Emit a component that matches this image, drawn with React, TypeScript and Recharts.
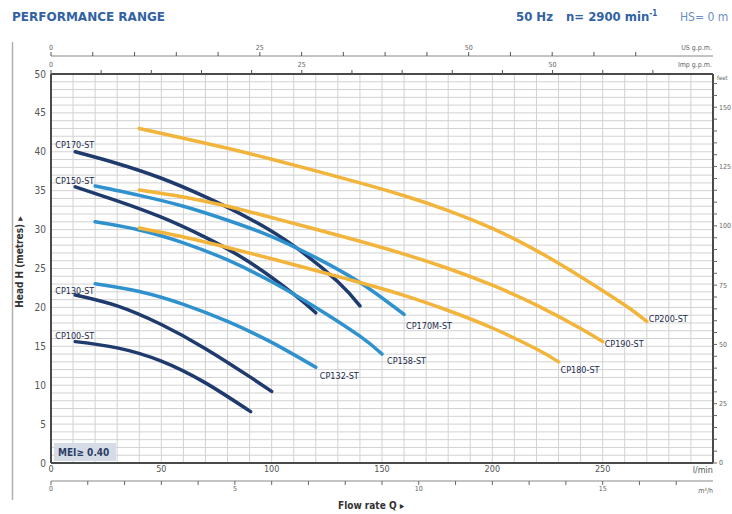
import React from 'react';
import { LineChart, Line, XAxis, YAxis, CartesianGrid } from 'recharts';

const FONT = '"Liberation Sans Narrow", "DejaVu Sans Condensed", "Liberation Sans", Arial, sans-serif';
const NAVY = '#1f3a6c';
const LIGHT = '#2f92cf';
const ORANGE = '#f2b43a';

// tick arrays
const flowTicks = [0, 10, 20, 30, 40, 50, 60, 70, 80, 90, 100, 110, 120, 130, 140, 150, 160, 170, 180, 190, 200, 210, 220, 230, 240, 250, 260, 270, 280, 290, 300];
const headTicks = [0, 1, 2, 3, 4, 5, 6, 7, 8, 9, 10, 11, 12, 13, 14, 15, 16, 17, 18, 19, 20, 21, 22, 23, 24, 25, 26, 27, 28, 29, 30, 31, 32, 33, 34, 35, 36, 37, 38, 39, 40, 41, 42, 43, 44, 45, 46, 47, 48, 49, 50];
const feetTicks = [0, 5, 10, 15, 20, 25, 30, 35, 40, 45, 50, 55, 60, 65, 70, 75, 80, 85, 90, 95, 100, 105, 110, 115, 120, 125, 130, 135, 140, 145, 150, 155, 160];
const usTicks = [0, 5, 10, 15, 20, 25, 30, 35, 40, 45, 50, 55, 60, 65, 70];
const impTicks = [0, 5, 10, 15, 20, 25, 30, 35, 40, 45, 50, 55, 60];
const m3Ticks = [0, 1, 2, 3, 4, 5, 6, 7, 8, 9, 10, 11, 12, 13, 14, 15, 16, 17];
const flowLabels = [0, 50, 100, 150, 200, 250];
const headLabels = [0, 5, 10, 15, 20, 25, 30, 35, 40, 45, 50];
const feetLabels = [0, 25, 50, 75, 100, 125, 150];
const usLabels = [0, 25, 50];
const impLabels = [0, 25, 50];
const m3Labels = [0, 5, 10, 15];

// curve data (flow l/min, head m)
const cp100 = [{ q: 11, h: 15.6 }, { q: 30, h: 14.8 }, { q: 50, h: 13.1 }, { q: 70, h: 10.3 }, { q: 90.5, h: 6.6 }];
const cp130 = [{ q: 11, h: 21.6 }, { q: 30, h: 20.2 }, { q: 50, h: 17.8 }, { q: 70, h: 14.7 }, { q: 90, h: 11.1 }, { q: 100, h: 9.2 }];
const cp132 = [{ q: 20, h: 23.05 }, { q: 40, h: 22.05 }, { q: 60, h: 20.4 }, { q: 80, h: 18.2 }, { q: 100, h: 15.5 }, { q: 120, h: 12.3 }];
const cp150 = [{ q: 11, h: 35.5 }, { q: 30, h: 33.7 }, { q: 50, h: 31.6 }, { q: 70, h: 29.0 }, { q: 90, h: 25.8 }, { q: 110, h: 21.7 }, { q: 120, h: 19.3 }];
const cp158 = [{ q: 20, h: 31.0 }, { q: 40, h: 29.95 }, { q: 60, h: 28.3 }, { q: 80, h: 26.1 }, { q: 100, h: 23.3 }, { q: 120, h: 20.0 }, { q: 140, h: 16.3 }, { q: 150, h: 14.0 }];
const cp170 = [{ q: 11, h: 40.0 }, { q: 30, h: 38.5 }, { q: 50, h: 36.6 }, { q: 70, h: 34.2 }, { q: 90, h: 31.4 }, { q: 110, h: 27.9 }, { q: 130, h: 23.3 }, { q: 140, h: 20.2 }];
const cp170m = [{ q: 20, h: 35.6 }, { q: 40, h: 34.4 }, { q: 60, h: 33.0 }, { q: 80, h: 31.2 }, { q: 100, h: 29.1 }, { q: 120, h: 26.4 }, { q: 140, h: 23.2 }, { q: 160, h: 19.1 }];
const cp180 = [{ q: 40, h: 30.2 }, { q: 60, h: 29.05 }, { q: 80, h: 27.7 }, { q: 100, h: 26.25 }, { q: 120, h: 24.75 }, { q: 140, h: 23.2 }, { q: 160, h: 21.55 }, { q: 180, h: 19.6 }, { q: 200, h: 17.35 }, { q: 220, h: 14.65 }, { q: 230, h: 13.0 }];
const cp190 = [{ q: 40, h: 35.1 }, { q: 60, h: 34.2 }, { q: 80, h: 33.0 }, { q: 100, h: 31.55 }, { q: 120, h: 30.05 }, { q: 140, h: 28.5 }, { q: 160, h: 26.85 }, { q: 180, h: 25.0 }, { q: 200, h: 22.85 }, { q: 220, h: 20.3 }, { q: 240, h: 17.3 }, { q: 250, h: 15.6 }];
const cp200 = [{ q: 40, h: 43.0 }, { q: 60, h: 41.75 }, { q: 80, h: 40.45 }, { q: 100, h: 39.05 }, { q: 120, h: 37.55 }, { q: 140, h: 36.0 }, { q: 160, h: 34.35 }, { q: 180, h: 32.45 }, { q: 200, h: 30.15 }, { q: 220, h: 27.3 }, { q: 240, h: 23.95 }, { q: 260, h: 20.3 }, { q: 270, h: 18.2 }];

const seriesNames = ['CP100-ST', 'CP130-ST', 'CP132-ST', 'CP150-ST', 'CP158-ST', 'CP170-ST', 'CP170M-ST', 'CP180-ST', 'CP190-ST', 'CP200-ST'];
const seriesData = [cp100, cp130, cp132, cp150, cp158, cp170, cp170m, cp180, cp190, cp200];

// styling / label placement (kept apart from the data)
const seriesStyle = [
  { color: NAVY, at: 'start', dx: -20, dy: -5 },
  { color: NAVY, at: 'start', dx: -20, dy: -3 },
  { color: LIGHT, at: 'end', dx: 4, dy: 9 },
  { color: NAVY, at: 'start', dx: -20, dy: -5 },
  { color: LIGHT, at: 'end', dx: 5, dy: 7 },
  { color: NAVY, at: 'start', dx: -20, dy: -6 },
  { color: LIGHT, at: 'end', dx: 2, dy: 12 },
  { color: ORANGE, at: 'end', dx: 2, dy: 9 },
  { color: ORANGE, at: 'end', dx: 2, dy: 3 },
  { color: ORANGE, at: 'end', dx: 2, dy: -2 },
];

// rows that give the unit axes a data domain (built from the tick array)
const axisRows = flowTicks.map((q) => ({ q }));

const onlyLabels = (list: number[]) => (v: number) => (list.indexOf(v) >= 0 ? String(v) : '');

const makeLabel = (name: string, len: number, st: any) => (props: any) => {
  const { x, y, index } = props;
  const target = st.at === 'start' ? 0 : len - 1;
  if (index !== target || x == null || y == null) return <g />;
  return (
    <text x={x + st.dx} y={y + st.dy} fontSize={9} fontFamily={FONT} fill="#1b2a4c" dominantBaseline="middle">
      {name}
    </text>
  );
};

const smallTick = { fontSize: 7, fill: '#666', fontFamily: FONT };

export default function App() {
  return (
    <div style={{ position: 'absolute', left: 0, top: 0, width: 732, height: 514, background: '#fff' }}>
      <LineChart width={732} height={514} data={axisRows} margin={{ top: 42, right: 0, bottom: 17, left: 21 }}>
        <CartesianGrid xAxisId="lpm" yAxisId="m" stroke="#d2d2d2" strokeWidth={1} />
        <XAxis
          xAxisId="lpm"
          type="number"
          dataKey="q"
          domain={[0, 300]}
          ticks={flowTicks}
          interval={0}
          tickFormatter={onlyLabels(flowLabels)}
          tickLine={false}
          tickSize={1}
          tickMargin={2}
          height={18}
          axisLine={{ stroke: '#4a4a4a', strokeWidth: 2 }}
          tick={{ fontSize: 9, fill: '#555', fontFamily: FONT }}
          allowDataOverflow
        />
        <XAxis
          xAxisId="m3"
          type="number"
          dataKey="q"
          orientation="bottom"
          domain={[0, 18]}
          ticks={m3Ticks}
          interval={0}
          tickFormatter={onlyLabels(m3Labels)}
          tickSize={4}
          tickMargin={1}
          height={16}
          axisLine={{ stroke: '#888' }}
          tickLine={{ stroke: '#666' }}
          tick={smallTick}
          allowDataOverflow
        />
        <XAxis
          xAxisId="imp"
          type="number"
          dataKey="q"
          orientation="top"
          domain={[0, 300 / 4.54609]}
          ticks={impTicks}
          interval={0}
          tickFormatter={onlyLabels(impLabels)}
          tickSize={4}
          tickMargin={3}
          height={18}
          axisLine={{ stroke: '#4a4a4a', strokeWidth: 2 }}
          tickLine={{ stroke: '#555' }}
          tick={smallTick}
          allowDataOverflow
        />
        <XAxis
          xAxisId="us"
          type="number"
          dataKey="q"
          orientation="top"
          domain={[0, 300 / 3.78541]}
          ticks={usTicks}
          interval={0}
          tickFormatter={onlyLabels(usLabels)}
          tickSize={4}
          tickMargin={2}
          height={14}
          axisLine={{ stroke: '#888' }}
          tickLine={{ stroke: '#555' }}
          tick={smallTick}
          allowDataOverflow
        />
        <YAxis
          yAxisId="m"
          type="number"
          domain={[0, 50]}
          ticks={headTicks}
          interval={0}
          tickFormatter={onlyLabels(headLabels)}
          tickLine={false}
          tickSize={3}
          tickMargin={2}
          width={30}
          axisLine={{ stroke: '#4a4a4a', strokeWidth: 2 }}
          tick={{ fontSize: 10, fill: '#555', fontFamily: FONT }}
          allowDataOverflow
        />
        <YAxis
          yAxisId="ft"
          type="number"
          orientation="right"
          domain={[0, 50 / 0.3048]}
          ticks={feetTicks}
          interval={0}
          tickFormatter={onlyLabels(feetLabels)}
          tickSize={4}
          tickMargin={2}
          width={19}
          axisLine={{ stroke: '#4a4a4a', strokeWidth: 2 }}
          tickLine={{ stroke: '#666' }}
          tick={smallTick}
          allowDataOverflow
        />
        {seriesNames.map((name, i) => (
          <Line
            key={name}
            xAxisId="lpm"
            yAxisId="m"
            data={seriesData[i]}
            dataKey="h"
            type="natural"
            stroke={seriesStyle[i].color}
            strokeWidth={3.5}
            strokeLinecap="round"
            dot={false}
            activeDot={false}
            isAnimationActive={false}
            label={makeLabel(name, seriesData[i].length, seriesStyle[i])}
          />
        ))}
      </LineChart>
      <svg width={732} height={514} style={{ position: 'absolute', left: 0, top: 0, pointerEvents: 'none' }}>
        <text x={12} y={21} fontSize={13} fontWeight="bold" fill="#3262a2" fontFamily={FONT} textLength={153} lengthAdjust="spacingAndGlyphs">
          PERFORMANCE RANGE
        </text>
        <text x={516} y={21} fontSize={13} fontWeight="bold" fill="#3262a2" fontFamily={FONT}>
          50 Hz
        </text>
        <text x={566} y={21} fontSize={13} fontWeight="bold" fill="#3262a2" fontFamily={FONT}>
          n= 2900 min<tspan fontSize={8} dy={-5}>-1</tspan>
        </text>
        <text x={680} y={21} fontSize={12} fill="#6a8fc6" fontFamily={FONT}>
          HS= 0 m
        </text>
        <line x1={12.5} y1={42} x2={12.5} y2={500} stroke="#b0b0b0" strokeWidth={1.5} />
        <text transform="translate(22.5,262) rotate(-90)" textAnchor="middle" fontSize={10} fontWeight="bold" fill="#333" fontFamily={FONT}>
          Head H (metres) ▸
        </text>
        <text x={338} y={509} fontSize={10} fontWeight="bold" fill="#333" fontFamily={FONT}>
          Flow rate Q ▸
        </text>
        <text x={712} y={50} textAnchor="end" fontSize={7} fill="#666" fontFamily={FONT}>US g.p.m.</text>
        <text x={712} y={67} textAnchor="end" fontSize={7} fill="#666" fontFamily={FONT}>Imp g.p.m.</text>
        <text x={717} y={80} fontSize={6} fill="#666" fontFamily={FONT}>feet</text>
        <text x={713} y={473} textAnchor="end" fontSize={9} fill="#555" fontFamily={FONT}>l/min</text>
        <text x={713} y={493} textAnchor="end" fontSize={7} fill="#666" fontFamily={FONT}>m³/h</text>
        <rect x={54} y={443} width={62} height={18} fill="#d6dce6" />
        <text x={58} y={456} fontSize={10} fontWeight="bold" fill="#2c3e66" fontFamily={FONT}>
          MEI≥ 0.40
        </text>
      </svg>
    </div>
  );
}
